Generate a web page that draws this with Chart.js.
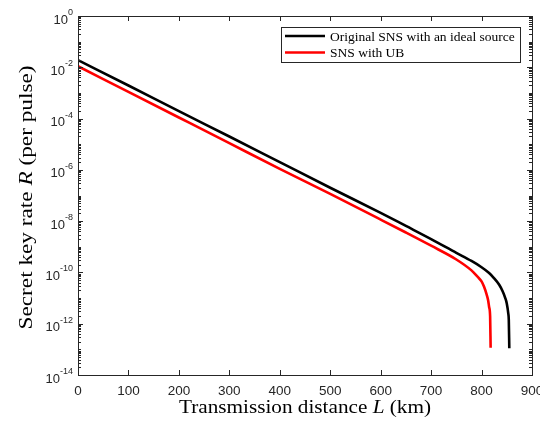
<!DOCTYPE html>
<html>
<head>
<meta charset="utf-8">
<script src="https://cdn.jsdelivr.net/npm/chart.js@4/dist/chart.umd.min.js"></script>
<style>
    html, body { margin: 0; padding: 0; background: #fff; }
    canvas { display: block; }
</style>
</head>
<body>
<canvas id="keyRateChart" width="540" height="421"></canvas>
<script>
// distance in km, key rate per pulse
const distanceIdeal = [0, 100, 200, 300, 400, 500, 600, 650, 700, 750, 780, 800, 815, 825, 835, 842, 847, 850, 853, 854, 855];
const rateIdeal = [1.9e-2, 1.95e-3, 1.95e-4, 2.0e-5, 2.0e-6, 2.0e-7, 2.1e-8, 6.5e-9, 2.0e-9, 5.8e-10, 2.8e-10, 1.6e-10, 9.5e-11, 5.9e-11, 3.3e-11, 1.8e-11, 1.0e-11, 6.2e-12, 2.5e-12, 1.4e-12, 1.1e-13];

const distanceUB = [0, 100, 200, 300, 400, 500, 600, 650, 700, 750, 780, 792, 800, 805, 810, 813, 815, 817, 818];
const rateUB = [1.1e-2, 1.1e-3, 1.1e-4, 1.1e-5, 1.1e-6, 1.15e-7, 1.15e-8, 3.6e-9, 1.1e-9, 3.2e-10, 1.2e-10, 6.8e-11, 4.5e-11, 2.75e-11, 1.4e-11, 8.3e-12, 4.5e-12, 1.9e-12, 1.15e-13];

const seriesLabels = ['Original SNS with an ideal source', 'SNS with UB'];
const seriesColors = ['#000000', '#ff0000'];

const xTicks = [0, 100, 200, 300, 400, 500, 600, 700, 800, 900];
const yExponents = [0, -2, -4, -6, -8, -10, -12, -14];

const axisColor = '#262626';

function toPoints(xs, ys) {
    return xs.map((x, i) => ({ x: x, y: ys[i] }));
}

const matlabAxes = {
    id: 'matlabAxes',
    afterDraw(chart) {
        const ctx = chart.ctx;
        const area = chart.chartArea;
        const xs = chart.scales.x;
        const ys = chart.scales.y;

        ctx.save();
        ctx.strokeStyle = axisColor;
        ctx.lineWidth = 1;

        // axes box
        ctx.strokeRect(Math.round(area.left) + 0.5, Math.round(area.top) + 0.5,
            Math.round(area.right - area.left), Math.round(area.bottom - area.top));

        ctx.beginPath();
        // x ticks, top and bottom, inward
        xTicks.forEach(v => {
            const px = Math.round(xs.getPixelForValue(v)) + 0.5;
            ctx.moveTo(px, area.bottom);
            ctx.lineTo(px, area.bottom - 5);
            ctx.moveTo(px, area.top);
            ctx.lineTo(px, area.top + 5);
        });

        // y ticks, log: major every two decades, minor otherwise
        for (let k = -14; k <= 0; k++) {
            const major = k % 2 === 0;
            const py = Math.round(ys.getPixelForValue(Math.pow(10, k))) + 0.5;
            const len = major ? 5 : 3;
            ctx.moveTo(area.left, py);
            ctx.lineTo(area.left + len, py);
            ctx.moveTo(area.right, py);
            ctx.lineTo(area.right - len, py);
            if (k < 0) {
                for (let m = 2; m <= 9; m++) {
                    const pm = Math.round(ys.getPixelForValue(m * Math.pow(10, k))) + 0.5;
                    ctx.moveTo(area.left, pm);
                    ctx.lineTo(area.left + 3, pm);
                    ctx.moveTo(area.right, pm);
                    ctx.lineTo(area.right - 3, pm);
                }
            }
        }
        ctx.stroke();

        // x tick labels
        ctx.fillStyle = axisColor;
        ctx.font = '13.5px "Liberation Sans", Arial, sans-serif';
        ctx.textAlign = 'center';
        ctx.textBaseline = 'alphabetic';
        xTicks.forEach(v => {
            ctx.fillText(String(v), xs.getPixelForValue(v), area.bottom + 20);
        });

        // y tick labels 10^k
        yExponents.forEach(k => {
            const py = ys.getPixelForValue(Math.pow(10, k));
            ctx.font = '9px "Liberation Sans", Arial, sans-serif';
            const expText = String(k);
            const expW = ctx.measureText(expText).width;
            const right = area.left - 5;
            ctx.textAlign = 'left';
            ctx.fillText(expText, right - expW, py - 1);
            ctx.font = '13px "Liberation Sans", Arial, sans-serif';
            const baseW = ctx.measureText('10').width;
            ctx.fillText('10', right - expW - baseW, py + 7.5);
        });

        // axis titles (upright text with an italic variable), stretched to the target width
        const serif = '"Liberation Serif", "Times New Roman", serif';
        function mixedText(parts, size, cx, cy, targetW) {
            let total = 0;
            parts.forEach(p => {
                ctx.font = (p.italic ? 'italic ' : '') + size + 'px ' + serif;
                p.w = ctx.measureText(p.t).width;
                total += p.w;
            });
            const sx = targetW / total;
            ctx.save();
            ctx.translate(cx, cy);
            ctx.scale(sx, 1);
            let x = -total / 2;
            ctx.textAlign = 'left';
            parts.forEach(p => {
                ctx.font = (p.italic ? 'italic ' : '') + size + 'px ' + serif;
                ctx.fillText(p.t, x, 0);
                x += p.w;
            });
            ctx.restore();
        }

        ctx.fillStyle = '#000';
        mixedText([
            { t: 'Transmission distance ' },
            { t: 'L', italic: true },
            { t: ' (km)' }
        ], 18.5, (area.left + area.right) / 2, area.bottom + 38, 252);

        ctx.save();
        ctx.translate(32, (area.top + area.bottom) / 2 + 2);
        ctx.rotate(-Math.PI / 2);
        mixedText([
            { t: 'Secret key rate ' },
            { t: 'R', italic: true },
            { t: ' (per pulse)' }
        ], 18.5, 0, 0, 264);
        ctx.restore();

        // legend box
        const lx = 281, ly = 27, lw = 239, lh = 35;
        ctx.fillStyle = '#fff';
        ctx.fillRect(lx, ly, lw, lh);
        ctx.strokeStyle = axisColor;
        ctx.lineWidth = 1;
        ctx.strokeRect(lx + 0.5, ly + 0.5, lw, lh);
        ctx.font = '13.5px ' + serif;
        ctx.textAlign = 'left';
        ctx.textBaseline = 'middle';
        chart.data.datasets.forEach((ds, i) => {
            const y = ly + 9 + i * 16.5;
            ctx.strokeStyle = ds.borderColor;
            ctx.lineWidth = 2.6;
            ctx.beginPath();
            ctx.moveTo(lx + 4, y);
            ctx.lineTo(lx + 44, y);
            ctx.stroke();
            ctx.fillStyle = '#000';
            ctx.fillText(ds.label, lx + 49, y + 1);
        });

        ctx.restore();
    }
};

new Chart(document.getElementById('keyRateChart'), {
    type: 'line',
    data: {
        datasets: [
            {
                label: seriesLabels[0],
                data: toPoints(distanceIdeal, rateIdeal),
                borderColor: seriesColors[0],
                borderWidth: 2.6,
                pointRadius: 0,
                cubicInterpolationMode: 'monotone',
                fill: false
            },
            {
                label: seriesLabels[1],
                data: toPoints(distanceUB, rateUB),
                borderColor: seriesColors[1],
                borderWidth: 2.6,
                pointRadius: 0,
                cubicInterpolationMode: 'monotone',
                fill: false
            }
        ]
    },
    options: {
        responsive: false,
        animation: false,
        devicePixelRatio: 1,
        layout: {
            padding: { left: 78, right: 8, top: 16, bottom: 46 }
        },
        plugins: {
            legend: { display: false },
            tooltip: { enabled: false }
        },
        scales: {
            x: {
                type: 'linear',
                min: 0,
                max: 900,
                display: false
            },
            y: {
                type: 'logarithmic',
                min: 1e-14,
                max: 1,
                display: false
            }
        }
    },
    plugins: [matlabAxes]
});
</script>
</body>
</html>
